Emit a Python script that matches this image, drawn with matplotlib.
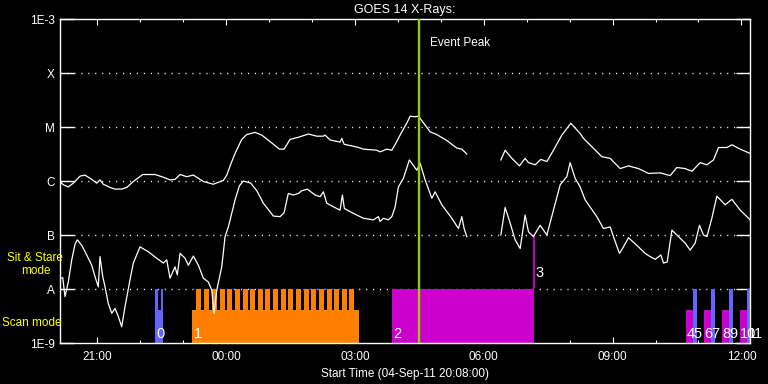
import numpy as np
import matplotlib
matplotlib.use("Agg")
import matplotlib.pyplot as plt
from matplotlib.ticker import FixedLocator, NullLocator, NullFormatter

FONT = ["Liberation Sans", "DejaVu Sans"]
plt.rcParams["font.family"] = FONT

# ---------------- data ----------------
title = "GOES 14 X-Rays:"
xlabel = "Start Time (04-Sep-11 20:08:00)"
x_end = 964  # minutes after 20:08

tick_minutes = [52, 232, 412, 592, 772, 952]
tick_labels = ["21:00", "00:00", "03:00", "06:00", "09:00", "12:00"]
minor_minutes = [112, 172, 292, 352, 472, 532, 652, 712, 832, 892]

level_values = [1e-9, 1e-8, 1e-7, 1e-6, 1e-5, 1e-4, 1e-3]
level_labels = ["1E-9", "A", "B", "C", "M", "X", "1E-3"]
grid_levels = [1e-8, 1e-7, 1e-6, 1e-5, 1e-4]

nan = float("nan")
# long channel (1-8 A): minutes after start, log10 flux
long_t = [0, 4.6, 11.6, 18.6, 28, 34.9, 44.3, 51.3, 55.9, 60.5,
          69.9, 76.9, 86.2, 93.2, 102.4, 115.6, 132.8, 144.4, 153.7, 160.7,
          167.7, 177.1, 186.3, 200.3, 214.2, 228.2, 233, 240, 244.6, 253.9,
          260.9, 272.5, 281.9, 293.5, 306.5, 313, 321.4, 333, 347, 358.7,
          368, 370.3, 377.3, 391.3, 393.7, 396.9, 414.6, 423.9, 442.6, 447.2,
          456.6, 463.6, 470.5, 477.5, 484.5, 489.1, 496.1, 500.7, 507.7, 517.1,
          526.4, 540.4, 554.4, 561.4, 568.4, 590,
          615.9, 621.9, 631.3, 641.9, 649.8, 654.5, 663.8, 671.8, 680.2, 689.4,
          701.1, 713.7, 726.7, 731.3, 757, 768.6, 782.6, 794.2, 808.2, 822.2,
          838.5, 852.5, 861.8, 873.4, 882.8, 894.4, 903.8, 913, 920, 931.7,
          938.7, 950.3, 964.3]
long_logf = [-6.01, -6.07, -6.11, -6.04, -5.91, -5.89, -5.97, -6.04, -5.98, -6.06,
             -6.12, -6.15, -6.15, -6.12, -6.01, -5.88, -5.88, -5.93, -5.98, -5.97,
             -5.88, -5.92, -5.89, -6.01, -6.06, -5.99, -5.89, -5.64, -5.49, -5.23,
             -5.14, -5.10, -5.15, -5.27, -5.41, -5.41, -5.23, -5.19, -5.13, -5.17,
             -5.17, -5.15, -5.24, -5.28, -5.21, -5.32, -5.37, -5.41, -5.43, -5.46,
             -5.41, -5.43, -5.27, -5.09, -4.93, -4.80, -4.81, -4.80, -4.92, -5.09,
             -5.14, -5.25, -5.39, -5.41, -5.50, nan,
             -5.61, -5.43, -5.58, -5.72, -5.58, -5.66, -5.70, -5.60, -5.64, -5.43,
             -5.15, -4.93, -5.12, -5.21, -5.55, -5.58, -5.77, -5.72, -5.77, -5.86,
             -5.85, -5.90, -5.75, -5.77, -5.82, -5.66, -5.70, -5.61, -5.38, -5.38,
             -5.33, -5.41, -5.49]

# short channel (0.5-4 A)
short_t = [0, 3.8, 7, 11.6, 16.4, 21, 24.2, 30.3, 37.3, 44.3,
           48.9, 53.5, 55.9, 59.7, 62.9, 67.5, 72.3, 76.9, 81.5, 86.2,
           90.8, 97.8, 102.4, 111.8, 123.4, 135.1, 144.4, 149.1, 153.7, 160.7,
           163.9, 167.7, 174.7, 179.3, 186.3, 193.3, 200.3, 207.2, 212, 215.2,
           219, 226, 230.6, 235.2, 244.6, 250.6, 256.2, 266.5, 274.9, 284.1,
           298.1, 307.5, 313, 319, 326, 333, 337.8, 345.6, 356.4, 363.4,
           368, 372.7, 379.7, 386.7, 391.3, 394.5, 397.3, 409.9, 423.9, 437.8,
           444.8, 447.2, 451.8, 458.8, 463.6, 468.2, 472.8, 479.8, 488.1, 498.5,
           503.1, 510.1, 519.5, 524.1, 533.4, 547.4, 556.6, 561.4, 564.6, 568.4, 590,
           615.9, 621.9, 628.9, 635.9, 642.9, 649.8, 654.5, 661.4, 670.8, 680.2,
           689.4, 698.8, 708.1, 712.7, 719.7, 726.7, 733.7, 750, 759.3, 768.6,
           775.6, 781.6, 787.2, 794.2, 808.2, 817.5, 824.5, 831.5, 839.5, 843.2,
           848.3, 854.9, 861.8, 873.4, 880.4, 887.4, 893.4, 899, 903.8, 910.7,
           917.7, 929.3, 938.7, 950.3, 964.3]
short_logf = [-7.80, -7.79, -8.14, -7.87, -7.46, -7.17, -7.09, -7.19, -7.37, -7.56,
              -7.77, -7.96, -7.40, -7.77, -7.96, -8.27, -8.45, -8.36, -8.51, -8.70,
              -8.33, -7.83, -7.52, -7.22, -7.31, -7.43, -7.52, -7.46, -7.80, -7.59,
              -7.74, -7.34, -7.43, -7.56, -7.39, -7.56, -7.80, -7.87, -8.02, -8.45,
              -8.02, -7.59, -7.03, -6.85, -6.35, -6.09, -6.00, -6.04, -6.18, -6.41,
              -6.65, -6.66, -6.59, -6.23, -6.26, -6.23, -6.18, -6.15, -6.26, -6.29,
              -6.20, -6.41, -6.46, -6.51, -6.54, -6.26, -6.51, -6.60, -6.69, -6.72,
              -6.66, -6.75, -6.69, -6.72, -6.66, -6.48, -6.11, -5.95, -5.61, -5.80,
              -5.67, -5.98, -6.32, -6.20, -6.44, -6.69, -6.88, -6.66, -6.88, -7.03, nan,
              -7.00, -6.49, -6.78, -7.09, -7.25, -6.63, -6.94, -7.03, -6.82, -7.00,
              -6.54, -6.07, -5.92, -5.66, -5.95, -6.11, -6.35, -6.66, -6.88, -6.85,
              -7.12, -7.34, -7.22, -7.05, -7.22, -7.34, -7.40, -7.45, -7.37, -7.52,
              -7.50, -6.91, -7.00, -7.15, -7.28, -7.15, -6.82, -7.00, -7.03, -6.69,
              -6.28, -6.44, -6.34, -6.54, -6.72]

event_peak = 501  # minutes after start
event_label = "Event Peak"

# observation blocks: start, end (minutes), top flux, colour
blue = "#6464FF"
orange = "#FF8000"
magenta = "#CC00CC"
low_top = 4.1e-9
high_top = 1e-8
obs_start = [133.2, 184.5, 464.0, 874.8, 900.0, 925.2, 950.3,
             133.2, 140.7, 885.0, 909.8, 935.0, 960.1]
obs_end = [143.9, 417.4, 662.4, 884.6, 909.8, 935.0, 960.1,
           137.0, 143.9, 890.2, 915.4, 940.6, 964.3]
obs_top = [low_top, low_top, high_top, low_top, low_top, low_top, low_top,
           high_top, high_top, high_top, high_top, high_top, high_top]
obs_color = [blue, orange, magenta, magenta, magenta, magenta, magenta,
             blue, blue, blue, blue, blue, blue]
# raster teeth of scan 1
teeth_start = [190.1, 201.2, 212.0, 223.2, 233.8, 244.1, 255.3, 265.5, 276.3, 286.9,
               297.7, 308.4, 319.0, 329.8, 340.6, 351.2, 361.9, 372.7, 383.3, 394.1,
               404.3]
teeth_width = 6.8
# sit & stare observation 3
sit_time = 662.6
sit_top = 1e-7

label_text = ["0", "1", "2", "3", "4", "5", "6", "7", "8", "9", "10", "11"]
label_t = [134.0, 186.5, 465.5, 664.5, 875.5, 885.5, 900.5, 910.0, 925.5, 935.5, 950.5, 960.5]
label_logy = [-8.91, -8.91, -8.91, -7.78, -8.91, -8.91, -8.91, -8.91, -8.91, -8.91, -8.91, -8.91]

# ---------------- figure ----------------
fig = plt.figure(figsize=(7.68, 3.84), dpi=100, facecolor="black")
ax = fig.add_axes([60 / 768, 41 / 384, 690 / 768, 324 / 384], facecolor="black")
ax.set_yscale("log")
ax.set_xlim(0, x_end)
ax.set_ylim(1e-9, 1e-3)

# dotted level lines
for lv in grid_levels:
    ax.axhline(lv, color="white", lw=1.0, ls=(0, (0.8, 4.2)), zorder=1)

# observation blocks
for s, e, t, c in zip(obs_start, obs_end, obs_top, obs_color):
    ax.bar(s, t - 1e-9, width=e - s, bottom=1e-9, align="edge", color=c,
           edgecolor="none", linewidth=0, zorder=2)
for s in teeth_start:
    ax.bar(s, high_top - 1e-9, width=teeth_width, bottom=1e-9, align="edge",
           color=orange, edgecolor="none", linewidth=0, zorder=2)
ax.vlines(sit_time, 1e-8, sit_top, color=magenta, lw=1.3, zorder=2)

for txt, t, ly in zip(label_text, label_t, label_logy):
    ax.text(t, 10 ** ly, txt, color="white", fontsize=10.5, ha="left",
            va="baseline", zorder=5, clip_on=False)

# light curves
ax.plot(long_t, np.power(10.0, long_logf), color="white", lw=0.9, zorder=4)
ax.plot(short_t, np.power(10.0, short_logf), color="white", lw=0.9, zorder=4)

# event peak
ax.axvline(event_peak, color="#9ACD00", lw=1.7, zorder=6)
ax.text(event_peak + 16, 10 ** -3.44, event_label, color="white", fontsize=8.5,
        ha="left", va="center")

# axes styling
for sp in ax.spines.values():
    sp.set_color("white")
    sp.set_linewidth(1.0)

ax.yaxis.set_major_locator(FixedLocator(level_values))
ax.yaxis.set_minor_locator(NullLocator())
ax.set_yticklabels(level_labels)
ax.tick_params(axis="y", which="major", direction="in", length=10, width=1.0,
               color="white", labelcolor="white", labelsize=8.5, left=True,
               right=True, pad=4)

ax.xaxis.set_major_locator(FixedLocator(tick_minutes))
ax.xaxis.set_minor_locator(FixedLocator(minor_minutes))
ax.xaxis.set_minor_formatter(NullFormatter())
ax.set_xticklabels(tick_labels)
ax.tick_params(axis="x", which="major", direction="in", length=4.5, width=0.8,
               color="white", labelcolor="white", labelsize=8.5, top=True,
               bottom=True, pad=6)
ax.tick_params(axis="x", which="minor", direction="in", length=2.2, width=0.8,
               color="white", top=True, bottom=True)

ax.set_xlabel(xlabel, color="white", fontsize=8.5, labelpad=3)
fig.text(405 / 768, 1 - 10 / 384, title, color="white", fontsize=9,
         ha="center", va="center")

fig.text(35 / 768, 1 - 258 / 384, "Sit & Stare", color="#FFFF00", fontsize=8.5,
         ha="center", va="center")
fig.text(36 / 768, 1 - 271 / 384, "mode", color="#FFFF00", fontsize=8.5,
         ha="center", va="center")
fig.text(2 / 768, 1 - 323 / 384, "Scan mode", color="#FFFF00", fontsize=8.5,
         ha="left", va="center")

fig.savefig("out.png", dpi=100, facecolor="black")
